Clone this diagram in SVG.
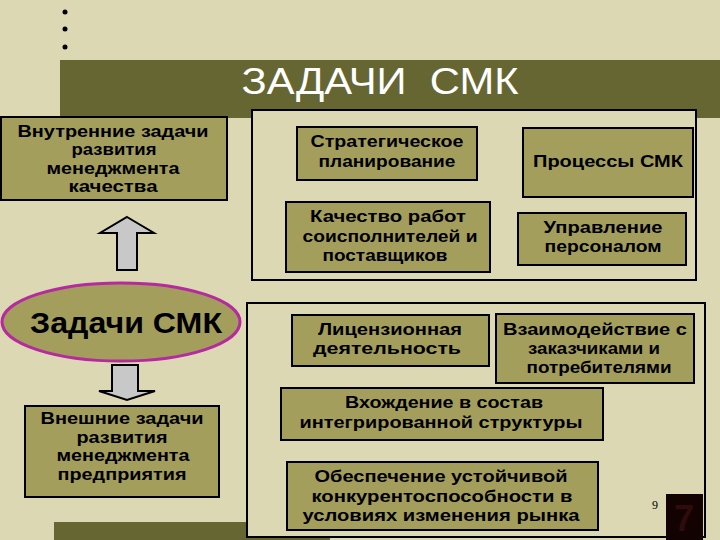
<svg xmlns="http://www.w3.org/2000/svg" width="720" height="540" viewBox="0 0 720 540">
<style>
.box{fill:#A39E5C;stroke:#000;stroke-width:2}
.frame{fill:#DCD8B4;stroke:#000;stroke-width:2}
.t{font-family:"Liberation Sans",Arial,sans-serif;font-weight:bold;font-size:17px;fill:#000;text-anchor:middle}
.arrow{fill:#C8C8C8;stroke:#000;stroke-width:2;stroke-linejoin:miter}
</style>
<rect x="0" y="0" width="720" height="540" fill="#DCD8B4"/>
<g id="bullets" fill="#000">
<circle cx="65" cy="12" r="2.5"/>
<circle cx="65" cy="29" r="2.5"/>
<circle cx="65" cy="47" r="2.5"/>
</g>
<g id="title">
<rect x="60" y="60" width="660" height="58" fill="#666633"/>
<text x="380" y="94" font-family="Liberation Sans,Arial,sans-serif" font-size="36" fill="#fff" text-anchor="middle" textLength="277" lengthAdjust="spacingAndGlyphs" xml:space="preserve">ЗАДАЧИ  СМК</text>
</g>
<rect x="54" y="522" width="276" height="18" fill="#666633"/>
<rect class="frame" x="252" y="110" width="444" height="170"/>
<rect class="frame" x="247" y="303" width="458" height="234"/>
<g id="internal">
<rect class="box" x="1" y="117" width="226" height="83"/>
<text class="t" x="113" y="137" textLength="191" lengthAdjust="spacingAndGlyphs">Внутренние задачи</text>
<text class="t" x="114" y="155" textLength="85" lengthAdjust="spacingAndGlyphs">развития</text>
<text class="t" x="113" y="174" textLength="133" lengthAdjust="spacingAndGlyphs">менеджмента</text>
<text class="t" x="113" y="192" textLength="89" lengthAdjust="spacingAndGlyphs">качества</text>
</g>
<g id="center">
<ellipse cx="121" cy="322" rx="119" ry="39" fill="#A39E5C" stroke="#B62AA0" stroke-width="3"/>
<text x="126" y="333" font-family="Liberation Sans,Arial,sans-serif" font-weight="bold" font-size="29" text-anchor="middle" textLength="192" lengthAdjust="spacingAndGlyphs">Задачи СМК</text>
</g>
<g id="external">
<rect class="box" x="25" y="406" width="194" height="91"/>
<text class="t" x="122" y="424" textLength="163" lengthAdjust="spacingAndGlyphs">Внешние задачи</text>
<text class="t" x="122" y="443" textLength="91" lengthAdjust="spacingAndGlyphs">развития</text>
<text class="t" x="123" y="461" textLength="133" lengthAdjust="spacingAndGlyphs">менеджмента</text>
<text class="t" x="122" y="480" textLength="129" lengthAdjust="spacingAndGlyphs">предприятия</text>
</g>
<g id="connectors">
<polygon class="arrow" points="127,217 154,233 137,233 137,270 117,270 117,233 100,233"/>
<polygon class="arrow" points="112,365 138,365 138,391 155,391 127,400 99,391 112,391"/>
</g>
<g id="strategic">
<rect class="box" x="297" y="127" width="180" height="53"/>
<text class="t" x="387" y="147" textLength="153" lengthAdjust="spacingAndGlyphs">Стратегическое</text>
<text class="t" x="387" y="167" textLength="137" lengthAdjust="spacingAndGlyphs">планирование</text>
</g>
<g id="processes">
<rect class="box" x="523" y="128" width="170" height="69"/>
<text class="t" x="608" y="167" textLength="150" lengthAdjust="spacingAndGlyphs">Процессы СМК</text>
</g>
<g id="quality">
<rect class="box" x="286" y="202" width="204" height="70"/>
<text class="t" x="388" y="222" textLength="156" lengthAdjust="spacingAndGlyphs">Качество работ</text>
<text class="t" x="390" y="242" textLength="175" lengthAdjust="spacingAndGlyphs">соисполнителей и</text>
<text class="t" x="385" y="261" textLength="125" lengthAdjust="spacingAndGlyphs">поставщиков</text>
</g>
<g id="personnel">
<rect class="box" x="518" y="213" width="168" height="52"/>
<text class="t" x="603" y="233" textLength="119" lengthAdjust="spacingAndGlyphs">Управление</text>
<text class="t" x="603" y="252" textLength="117" lengthAdjust="spacingAndGlyphs">персоналом</text>
</g>
<g id="license">
<rect class="box" x="292" y="315" width="197" height="51"/>
<text class="t" x="390" y="335" textLength="144" lengthAdjust="spacingAndGlyphs">Лицензионная</text>
<text class="t" x="387" y="354" textLength="148" lengthAdjust="spacingAndGlyphs">деятельность</text>
</g>
<g id="customers">
<rect class="box" x="496" y="314" width="198" height="69"/>
<text class="t" x="595" y="335" textLength="184" lengthAdjust="spacingAndGlyphs">Взаимодействие с</text>
<text class="t" x="594" y="354" textLength="132" lengthAdjust="spacingAndGlyphs">заказчиками и</text>
<text class="t" x="599" y="373" textLength="145" lengthAdjust="spacingAndGlyphs">потребителями</text>
</g>
<g id="integration">
<rect class="box" x="281" y="388" width="322" height="52"/>
<text class="t" x="444" y="408" textLength="198" lengthAdjust="spacingAndGlyphs">Вхождение в состав</text>
<text class="t" x="441" y="428" textLength="283" lengthAdjust="spacingAndGlyphs">интегрированной структуры</text>
</g>
<g id="competitiveness">
<rect class="box" x="287" y="462" width="311" height="68"/>
<text class="t" x="441" y="482" textLength="253" lengthAdjust="spacingAndGlyphs">Обеспечение устойчивой</text>
<text class="t" x="442" y="502" textLength="261" lengthAdjust="spacingAndGlyphs">конкурентоспособности в</text>
<text class="t" x="441" y="521" textLength="277" lengthAdjust="spacingAndGlyphs">условиях изменения рынка</text>
</g>
<g id="page">
<text x="655" y="509" font-family="Liberation Serif,serif" font-size="12" fill="#000" text-anchor="middle">9</text>
<rect x="666" y="494" width="37" height="46" fill="#120202"/>
<text x="684" y="531" font-family="Liberation Sans,Arial,sans-serif" font-weight="bold" font-size="36" fill="#2e0c0c" text-anchor="middle">7</text>
</g>
</svg>
